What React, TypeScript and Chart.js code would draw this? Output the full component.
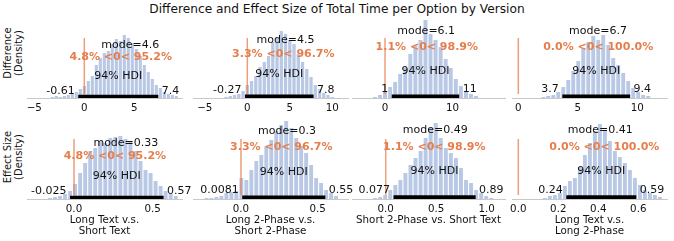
import React, { useEffect, useRef } from 'react';
import { Chart, registerables } from 'chart.js';

Chart.register(...registerables);

// ---------------- text ----------------
const TITLE = 'Difference and Effect Size of Total Time per Option by Version';
const ROW_LABELS = [
  ['Difference', '(Density)'],
  ['Effect Size', '(Density)'],
];
const COMPARISON_LABELS = [
  ['Long Text v.s.', 'Short Text'],
  ['Long 2-Phase v.s.', 'Short 2-Phase'],
  ['Short 2-Phase vs. Short Text'],
  ['Long Text v.s.', 'Long 2-Phase'],
];

// ---------------- row 1: difference ----------------
const DIFF_BIN_START = [-3.2, -2.5, -1.5, 2.1];
const DIFF_BIN_WIDTH = [0.4, 0.5, 0.75, 0.42];
const DIFF_LT_ST = [1, 2, 1, 2, 3, 4, 6, 9, 12, 17, 22, 33, 40, 45, 47, 54, 59, 57, 63, 60, 55, 49, 42, 33, 26, 19, 13, 10, 6, 4, 3, 2];
const DIFF_L2_S2 = [1, 2, 3, 4, 7, 13, 17, 22, 31, 36, 42, 56, 60, 67, 64, 58, 54, 44, 36, 29, 21, 13, 9, 5, 3, 1];
const DIFF_S2_ST = [1, 3, 7, 11, 16, 24, 31, 44, 52, 58, 78, 64, 58, 51, 39, 30, 19, 12, 7, 4, 2];
const DIFF_LT_L2 = [1, 2, 3, 6, 11, 18, 27, 37, 50, 56, 62, 58, 63, 53, 40, 33, 25, 17, 10, 6, 3, 2];
const DIFF_MODE = [4.6, 4.5, 6.1, 6.7];
const DIFF_MEAN = [3.64, 4.24, 6.2, 6.72];
const DIFF_HDI_LOW = [-0.61, -0.27, 1, 3.7];
const DIFF_HDI_HIGH = [7.4, 7.8, 11, 9.4];
const DIFF_PCT_BELOW = [4.8, 3.3, 1.1, 0.0];
const DIFF_TICKS = [[-5, 0, 5], [-5, 0, 5, 10], [0, 10], [0, 5, 10]];
const DIFF_XLIM = [[-5.73, 9.77], [-6.39, 11.85], [-4.9, 17.8], [-0.53, 12.5]];

// ---------------- row 2: effect size ----------------
const EFF_BIN_START = [-0.153, -0.225, -0.105, 0.133];
const EFF_BIN_WIDTH = [0.032, 0.0325, 0.05, 0.025];
const EFF_LT_ST = [1, 2, 3, 5, 8, 15, 26, 36, 48, 51, 58, 56, 61, 62, 63, 60, 58, 48, 38, 29, 26, 18, 13, 8, 5, 3];
const EFF_L2_S2 = [1, 1, 2, 3, 6, 7, 8, 21, 19, 29, 38, 44, 53, 59, 68, 74, 78, 71, 61, 53, 46, 34, 21, 16, 9, 6, 3];
const EFF_S2_ST = [1, 2, 4, 9, 14, 19, 26, 34, 41, 48, 61, 71, 76, 61, 51, 46, 41, 31, 19, 16, 9, 6, 3, 1];
const EFF_LT_L2 = [1, 3, 4, 6, 13, 18, 21, 32, 44, 56, 68, 75, 68, 58, 48, 42, 36, 29, 21, 14, 9, 6, 4, 2];
const EFF_MODE = [0.33, 0.3, 0.49, 0.41];
const EFF_MEAN = [0.26, 0.263, 0.481, 0.43];
const EFF_HDI_LOW = [-0.025, 0.0081, 0.077, 0.24];
const EFF_HDI_HIGH = [0.57, 0.55, 0.89, 0.59];
const EFF_PCT_BELOW = [4.8, 3.3, 1.1, 0.0];
const EFF_TICKS = [[0, 0.5], [0, 0.5], [0, 0.5, 1.0], [0, 0.2, 0.4, 0.6]];
const EFF_XLIM = [[-0.299, 0.687], [-0.313, 0.698], [-0.334, 1.181], [-0.0315, 0.7435]];

const REF_VAL = 0;

// ---------------- layout / style ----------------
const W = 674;
const H = 241;
const FONT = "'DejaVu Sans'";
const PANEL_LEFT = [27, 193, 352, 512];
const PANEL_RIGHT = [182, 348, 505, 667];
const ROW_BASELINE = [98, 199];
const AXIS_H = 80;
const PAD_X = 34;
const PAD_TOP = 6;
const XAXIS_H = 25;
const LABEL_HEIGHT = [[63, 69, 80, 80], [66, 81, 82, 82]];
const BAR_COLOR = 'rgb(185,200,228)';
const REF_COLOR = 'rgb(230,126,76)';
const REF_LINE_COLOR = 'rgba(230,126,76,0.75)';
const TEXT_COLOR = '#111';
const AXIS_COLOR = '#c8c8c8';

type Annot = {
  mode: number;
  mean: number;
  lo: number;
  hi: number;
  below: number;
  ph: number;
};

const annotatePlugin = {
  id: 'annotate',
  afterDatasetsDraw(chart: any, _args: any, opts: any) {
    if (!opts || opts.ph === undefined) return;
    const a = opts as Annot;
    const { ctx } = chart;
    const xs = chart.scales.x;
    const ys = chart.scales.y;
    const px = (v: number) => xs.getPixelForValue(v);
    const py = (v: number) => ys.getPixelForValue(v);
    ctx.save();
    ctx.textBaseline = 'alphabetic';
    ctx.fillStyle = TEXT_COLOR;
    ctx.font = `11px ${FONT}`;
    ctx.textAlign = 'center';
    ctx.fillText(`mode=${a.mode}`, px(a.mode), py(a.ph * 0.8));
    ctx.fillText('94% HDI', px((a.lo + a.hi) / 2), py(a.ph * 0.3));
    ctx.textAlign = 'right';
    ctx.fillText(`${a.lo} `, px(a.lo), py(a.ph * 0.07));
    ctx.textAlign = 'left';
    ctx.fillText(` ${a.hi}`, px(a.hi), py(a.ph * 0.07));
    ctx.font = `bold 11px ${FONT}`;
    ctx.fillStyle = REF_COLOR;
    ctx.textAlign = 'center';
    const txt = `${a.below.toFixed(1)}% <0< ${(100 - a.below).toFixed(1)}%`;
    ctx.fillText(txt, px(a.mean), py(a.ph * 0.6));
    ctx.restore();
  },
};

type PanelSpec = {
  row: number;
  col: number;
  heights: number[];
  start: number;
  width: number;
  mode: number;
  mean: number;
  lo: number;
  hi: number;
  below: number;
  ticks: number[];
  xlim: number[];
  decimals: number;
};

const PANELS: PanelSpec[] = [];
const DIFF_HEIGHTS = [DIFF_LT_ST, DIFF_L2_S2, DIFF_S2_ST, DIFF_LT_L2];
const EFF_HEIGHTS = [EFF_LT_ST, EFF_L2_S2, EFF_S2_ST, EFF_LT_L2];
for (let c = 0; c < 4; c++) {
  PANELS.push({
    row: 0, col: c, heights: DIFF_HEIGHTS[c], start: DIFF_BIN_START[c], width: DIFF_BIN_WIDTH[c],
    mode: DIFF_MODE[c], mean: DIFF_MEAN[c], lo: DIFF_HDI_LOW[c], hi: DIFF_HDI_HIGH[c],
    below: DIFF_PCT_BELOW[c], ticks: DIFF_TICKS[c], xlim: DIFF_XLIM[c], decimals: 0,
  });
}
for (let c = 0; c < 4; c++) {
  PANELS.push({
    row: 1, col: c, heights: EFF_HEIGHTS[c], start: EFF_BIN_START[c], width: EFF_BIN_WIDTH[c],
    mode: EFF_MODE[c], mean: EFF_MEAN[c], lo: EFF_HDI_LOW[c], hi: EFF_HDI_HIGH[c],
    below: EFF_PCT_BELOW[c], ticks: EFF_TICKS[c], xlim: EFF_XLIM[c], decimals: 1,
  });
}

function fmtTick(v: number, decimals: number) {
  const s = Math.abs(v).toFixed(decimals);
  return v < 0 ? '\u2212' + s : s;
}

function Panel({ p }: { p: PanelSpec }) {
  const ref = useRef<HTMLCanvasElement>(null);
  const axisW = PANEL_RIGHT[p.col] - PANEL_LEFT[p.col];
  const cw = axisW + PAD_X * 2;
  const ch = PAD_TOP + AXIS_H + XAXIS_H;
  const left = PANEL_LEFT[p.col] - PAD_X;
  const top = ROW_BASELINE[p.row] - AXIS_H - PAD_TOP;
  const ph = LABEL_HEIGHT[p.row][p.col];

  useEffect(() => {
    const bars = p.heights.map((h, i) => ({ x: +(p.start + i * p.width).toFixed(5), y: h }));
    const chart = new Chart(ref.current as HTMLCanvasElement, {
      type: 'bar',
      data: {
        datasets: [
          {
            type: 'line',
            data: [{ x: p.lo, y: ph * 0.02 }, { x: p.hi, y: ph * 0.02 }],
            borderColor: '#000',
            borderWidth: 4,
            borderCapStyle: 'butt',
            pointRadius: 0,
            order: 1,
          } as any,
          {
            type: 'line',
            data: [{ x: REF_VAL, y: AXIS_H * 0.05 }, { x: REF_VAL, y: AXIS_H * 0.75 }],
            borderColor: REF_LINE_COLOR,
            borderWidth: 1.5,
            pointRadius: 0,
            order: 2,
          } as any,
          {
            type: 'bar',
            data: bars,
            backgroundColor: BAR_COLOR,
            borderWidth: 0,
            barPercentage: 0.78,
            categoryPercentage: 1,
            order: 3,
          } as any,
        ],
      },
      options: {
        responsive: false,
        animation: false,
        devicePixelRatio: 1,
        events: [],
        layout: { padding: { left: PAD_X, right: PAD_X, top: PAD_TOP, bottom: 0 } },
        plugins: {
          legend: { display: false },
          tooltip: { enabled: false },
          annotate: { mode: p.mode, mean: p.mean, lo: p.lo, hi: p.hi, below: p.below, ph },
        } as any,
        scales: {
          x: {
            type: 'linear',
            min: p.xlim[0],
            max: p.xlim[1],
            offset: false,
            grid: { display: false, drawTicks: false },
            border: { display: true, color: AXIS_COLOR, width: 1 },
            ticks: {
              font: { family: 'DejaVu Sans', size: 10.3 },
              color: TEXT_COLOR,
              padding: 4,
              autoSkip: false,
              maxRotation: 0,
              callback: (v: any) => fmtTick(Number(v), p.decimals),
            },
            afterBuildTicks: (s: any) => {
              s.ticks = p.ticks.map((v) => ({ value: v }));
            },
            afterFit: (s: any) => {
              s.height = XAXIS_H;
            },
          } as any,
          y: { type: 'linear', min: 0, max: AXIS_H, display: false },
        },
      },
      plugins: [annotatePlugin],
    } as any);
    return () => chart.destroy();
  }, []);

  return (
    <canvas
      ref={ref}
      width={cw}
      height={ch}
      style={{ position: 'absolute', left, top, width: cw, height: ch }}
    />
  );
}

export default function App() {
  return (
    <div
      style={{
        position: 'absolute', left: 0, top: 0, width: W, height: H,
        background: '#fff', overflow: 'hidden', fontFamily: FONT, color: TEXT_COLOR,
      }}
    >
      <div
        style={{
          position: 'absolute', left: 0, top: 3.2, width: W, textAlign: 'center',
          fontSize: 12.2, lineHeight: '12.2px', whiteSpace: 'nowrap',
        }}
      >
        {TITLE}
      </div>
      {ROW_LABELS.map((lines, r) => (
        <div
          key={'yl' + r}
          style={{
            position: 'absolute', left: 14 - 50, top: (r === 0 ? 53 : 157) - 11, width: 100, height: 22,
            transform: 'rotate(-90deg)', transformOrigin: '50% 50%', textAlign: 'center',
            fontSize: 10, lineHeight: '10.5px', whiteSpace: 'nowrap',
          }}
        >
          {lines.map((l, i) => (<div key={i}>{l}</div>))}
        </div>
      ))}
      {PANELS.map((p, i) => (<Panel key={i} p={p} />))}
      {COMPARISON_LABELS.map((lines, c) => (
        <div
          key={'xl' + c}
          style={{
            position: 'absolute', left: (PANEL_LEFT[c] + PANEL_RIGHT[c]) / 2 - 100, top: 214, width: 200,
            textAlign: 'center', fontSize: 10.3, lineHeight: '11px', whiteSpace: 'nowrap',
          }}
        >
          {lines.map((l, i) => (<div key={i}>{l}</div>))}
        </div>
      ))}
    </div>
  );
}
